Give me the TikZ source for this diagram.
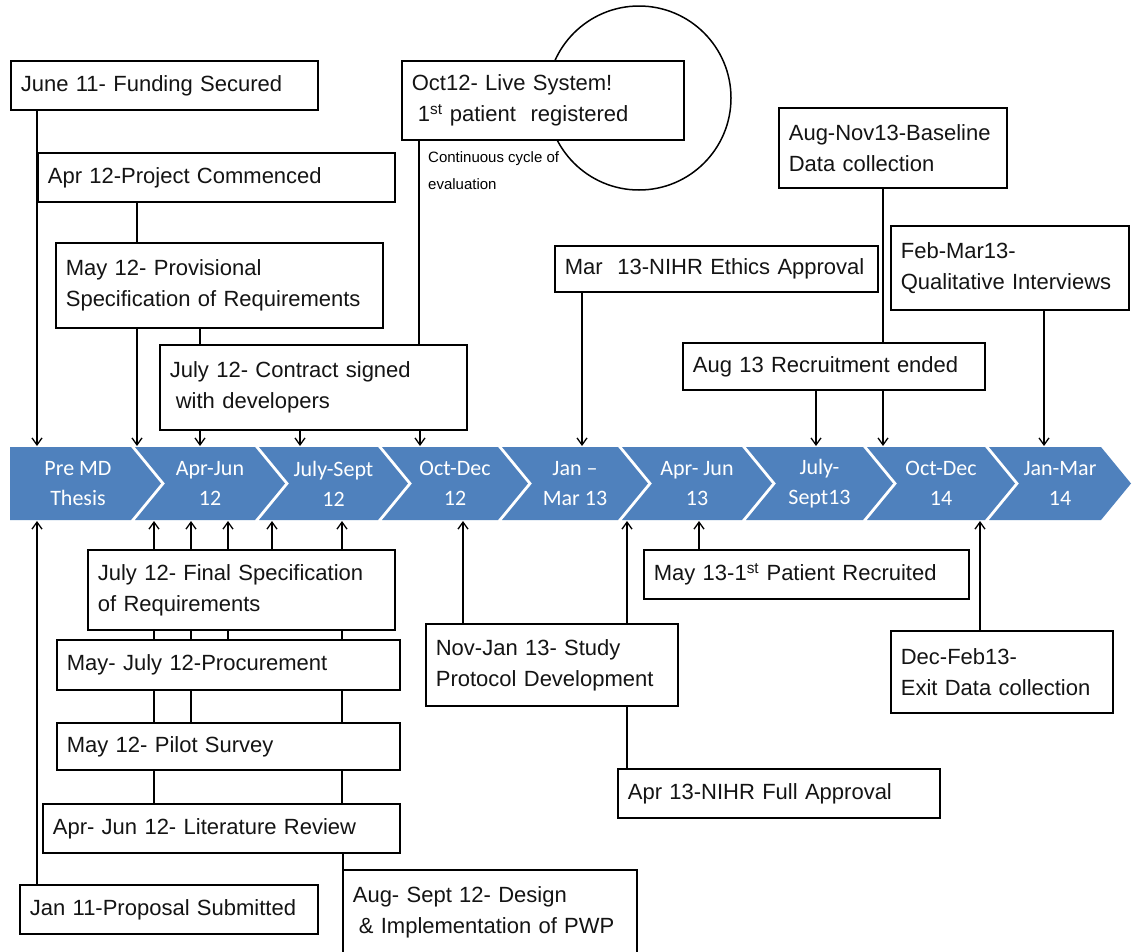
\documentclass[tikz,border=0pt]{standalone}
\usepackage{fontspec}
\setmainfont{Liberation Sans}
\newfontfamily\chevfont{Carlito}
\usetikzlibrary{arrows.meta}
\definecolor{chevblue}{HTML}{4F81BD}
\newcommand\tlbox[6]{%
  \pgfmathsetmacro\tlw{#4-#2-20}%
  \pgfmathsetmacro\tlh{#5-#3}%
  \node[box, text width=\tlw pt, minimum height=\tlh pt] (#1) at (#2,#3) {#6};}
\newcommand\tlchev[4]{%
  \fill[chevblue] (#2,447) -- (#3,447) -- (#3+30,483.5) -- (#3,520) -- (#2,520) -- (#2+30,483.5) -- cycle;
  \node[chevlabel] (#1) at ({(#2+#3+30)/2},483.5) {#4};}
\begin{document}
\begin{tikzpicture}[x=1pt,y=-1pt,
  box/.style={draw=black, line width=1.7pt, fill=white, anchor=north west, align=left,
    inner xsep=10pt, inner ysep=0pt, font=\fontsize{22}{31}\selectfont, text=black!92},
  conn/.style={draw=black, line width=1.6pt},
  arr/.style={conn, -{Straight Barb[length=7pt,width=10pt,line width=1.3pt]}},
  chevlabel/.style={text=white, align=center, font=\chevfont\fontsize{22}{30}\selectfont}
]
\useasboundingbox (0,0) rectangle (1133,951);
\fill[white] (0,0) rectangle (1133,951);

% timeline chevrons
\fill[chevblue] (10,447) -- (131,447) -- (161,483.5) -- (131,520) -- (10,520) -- cycle;
\node[chevlabel] (c1) at (78,483.5) {Pre MD\\Thesis};
\tlchev{c2}{135}{255}{Apr-Jun\\12}
\tlchev{c3}{259}{378}{July-Sept\\12}
\tlchev{c4}{382}{498}{Oct-Dec\\12}
\tlchev{c5}{502}{618}{Jan –\\Mar 13}
\tlchev{c6}{622}{742}{Apr- Jun\\13}
\tlchev{c7}{746}{863}{July-\\Sept13}
\tlchev{c8}{867}{985}{Oct-Dec\\14}
\tlchev{c9}{989}{1101}{Jan-Mar\\14}
\coordinate (bandT) at (0,446);
\coordinate (bandB) at (0,521);

% circle of evaluation
\node[circle, draw=black, line width=1.5pt, minimum size=184pt, inner sep=0pt] (cycle) at (639,98) {};

% boxes above the timeline
\tlbox{june}{10}{60}{317}{109}{June 11- Funding Secured}
\tlbox{apr12}{37}{152}{394}{201}{Apr 12-Project Commenced}
\tlbox{may12}{55}{242}{382}{327}{May 12- Provisional\\Specification of Requirements}
\tlbox{julyc}{159}{344}{466}{429}{July 12- Contract signed\\\hspace{6pt}with developers}
\tlbox{oct12}{401}{60}{683}{139}{Oct12- Live System!\\\hspace{6pt}1\textsuperscript{st} patient\ \ registered}
\tlbox{augnov}{778}{107}{1006}{187}{Aug-Nov13-Baseline\\Data collection}
\tlbox{mar13}{554}{245}{877}{291}{Mar\ \ 13-NIHR Ethics Approval}
\tlbox{febmar}{890}{225}{1128}{309}{Feb-Mar13-\\Qualitative Interviews}
\tlbox{aug13}{682}{342}{984}{389}{Aug 13 Recruitment ended}

\node[anchor=north west, inner sep=0pt, align=left, font=\fontsize{15}{27}\selectfont] (evaltext) at (428,151) {Continuous cycle of\\evaluation};

% boxes below the timeline
\tlbox{finspec}{87}{549}{394}{629}{July 12- Final Specification\\of Requirements}
\tlbox{proc}{56}{639}{399}{689}{May- July 12-Procurement}
\tlbox{pilot}{56}{722}{399}{769}{May 12- Pilot Survey}
\tlbox{lit}{42}{803}{399}{852}{Apr- Jun 12- Literature Review}
\tlbox{jan11}{19}{884}{317}{933}{Jan 11-Proposal Submitted}
\tlbox{augsept}{342}{869}{636}{953}{Aug- Sept 12- Design\\\hspace{6pt}\& Implementation of PWP}
\tlbox{novjan}{425}{623}{677}{705}{Nov-Jan 13- Study\\Protocol Development}
\tlbox{apr13}{617}{768}{939}{817}{Apr 13-NIHR Full Approval}
\tlbox{may13}{643}{549}{968}{598}{May 13-1\textsuperscript{st} Patient Recruited}
\tlbox{decfeb}{890}{630}{1112}{712}{Dec-Feb13-\\Exit Data collection}

% connectors above
\draw[arr] (june.south -| 37,0) -- (bandT -| 37,0);
\draw[conn] (apr12.south -| 137,0) -- (may12.north -| 137,0);
\draw[arr] (may12.south -| 137,0) -- (bandT -| 137,0);
\draw[conn] (may12.south -| 200,0) -- (julyc.north -| 200,0);
\draw[arr] (julyc.south -| 200,0) -- (bandT -| 200,0);
\draw[arr] (julyc.south -| 300,0) -- (bandT -| 300,0);
\draw[arr] (julyc.south -| 420,0) -- (bandT -| 420,0);
\draw[conn] (oct12.south -| 419,0) -- (julyc.north -| 419,0);
\draw[arr] (mar13.south -| 582,0) -- (bandT -| 582,0);
\draw[conn] (augnov.south -| 883,0) -- (aug13.north -| 883,0);
\draw[arr] (aug13.south -| 816,0) -- (bandT -| 816,0);
\draw[arr] (aug13.south -| 883,0) -- (bandT -| 883,0);
\draw[arr] (febmar.south -| 1044,0) -- (bandT -| 1044,0);

% connectors below
\draw[arr] (jan11.north -| 37,0) -- (bandB -| 37,0);
\foreach \xx in {154,191,228,272,342} {\draw[arr] (finspec.north -| \xx,0) -- (bandB -| \xx,0);}
\foreach \xx in {154,191,228,342} {\draw[conn] (proc.north -| \xx,0) -- (finspec.south -| \xx,0);}
\foreach \xx in {154,191,342} {\draw[conn] (pilot.north -| \xx,0) -- (proc.south -| \xx,0);}
\foreach \xx in {154,342} {\draw[conn] (lit.north -| \xx,0) -- (pilot.south -| \xx,0);}
\draw[conn] (augsept.north -| 343,0) -- (lit.south -| 343,0);
\draw[arr] (novjan.north -| 463,0) -- (bandB -| 463,0);
\draw[arr] (novjan.north -| 627,0) -- (bandB -| 627,0);
\draw[conn] (apr13.north -| 627,0) -- (novjan.south -| 627,0);
\draw[arr] (may13.north -| 699,0) -- (bandB -| 699,0);
\draw[arr] (decfeb.north -| 980,0) -- (bandB -| 980,0);
\end{tikzpicture}
\end{document}
